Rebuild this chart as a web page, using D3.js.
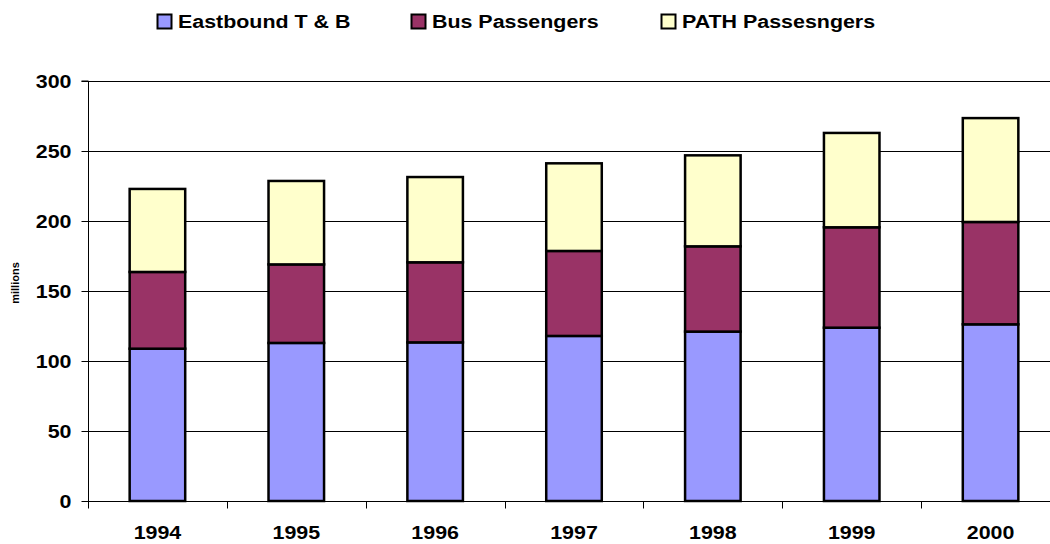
<!DOCTYPE html>
<html>
<head>
<meta charset="utf-8">
<script src="https://cdn.jsdelivr.net/npm/d3@7"></script>
<style>
  html, body { margin: 0; padding: 0; background: #fff; }
  svg { display: block; font-family: Arial, "Liberation Sans", sans-serif; }
</style>
</head>
<body>
<svg id="chart" width="1050" height="544"></svg>
<script>
// Trans-Hudson passengers, millions per year
const years = ["1994", "1995", "1996", "1997", "1998", "1999", "2000"];
const eastbound = [108.8, 112.9, 113.3, 117.9, 121.0, 123.8, 126.2];
const bus = [54.8, 56.1, 57.2, 60.7, 60.9, 71.7, 73.1];
const path = [59.3, 59.6, 60.9, 62.6, 65.0, 67.4, 74.2];
const seriesNames = ["Eastbound T & B", "Bus Passengers", "PATH Passesngers"];
const seriesColors = ["#9999FF", "#993366", "#FFFFCC"];
const yTicks = [0, 50, 100, 150, 200, 250, 300];

const svg = d3.select("#chart");
const plotLeft = 88, plotRight = 1060, plotTop = 81, plotBottom = 501;
const stretch = "scale(1.19,1)";   // wide bold lettering

const x = d3.scaleBand().domain(years).range([plotLeft, plotRight]).padding(0);
const y = d3.scaleLinear().domain([0, 300]).range([plotBottom, plotTop]);

// gridlines
svg.append("g").selectAll("line").data(yTicks).join("line")
  .attr("x1", plotLeft).attr("x2", plotRight)
  .attr("y1", d => Math.round(y(d)) + 0.5).attr("y2", d => Math.round(y(d)) + 0.5)
  .attr("stroke", "#000").attr("stroke-width", 1);

// stacked bars
const rows = years.map((yr, i) => ({ year: yr, a: eastbound[i], b: bus[i], c: path[i] }));
const stack = d3.stack().keys(["a", "b", "c"]);
const layers = stack(rows);
const barW = x.bandwidth() * 0.4;

svg.append("g").selectAll("g").data(layers).join("g")
  .attr("fill", (d, i) => seriesColors[i])
  .selectAll("rect").data(d => d).join("rect")
  .attr("x", d => x(d.data.year) + (x.bandwidth() - barW) / 2)
  .attr("width", barW)
  .attr("y", d => y(d[1]))
  .attr("height", d => y(d[0]) - y(d[1]))
  .attr("stroke", "#000").attr("stroke-width", 2.5);

// y axis
const yAxis = d3.axisLeft(y).tickValues(yTicks).tickSize(7).tickPadding(8);
const gy = svg.append("g").attr("transform", `translate(${plotLeft + 0.5},0)`).call(yAxis);
gy.select(".domain").attr("stroke", "#000").attr("d", `M-7,${y(300)}H0V${y(0)}`);
gy.selectAll(".tick line").attr("stroke", "#000");
gy.selectAll("text")
  .attr("x", 0).attr("dy", "0.36em")
  .attr("transform", `translate(-17,0) ${stretch}`)
  .attr("font-size", 18).attr("font-weight", "bold")
  .attr("font-family", "Arial, 'Liberation Sans', sans-serif")
  .attr("fill", "#000");

// x axis with ticks at category boundaries
const gx = svg.append("g").attr("transform", `translate(0,${plotBottom + 0.5})`);
gx.append("line").attr("x1", plotLeft).attr("x2", plotRight).attr("stroke", "#000");
const bounds = years.map(d => x(d)).concat([plotRight]);
gx.selectAll("line.tk").data(bounds).join("line").attr("class", "tk")
  .attr("x1", d => Math.round(d) + 0.5).attr("x2", d => Math.round(d) + 0.5)
  .attr("y1", 0).attr("y2", 7).attr("stroke", "#000");
const xAxis = d3.axisBottom(x).tickSize(0).tickPadding(0);
const gxl = svg.append("g").attr("transform", `translate(0,${plotBottom})`).call(xAxis);
gxl.select(".domain").remove();
gxl.selectAll("text")
  .attr("y", 0).attr("dy", 0)
  .attr("transform", `translate(0,38) ${stretch}`)
  .attr("font-size", 18).attr("font-weight", "bold")
  .attr("font-family", "Arial, 'Liberation Sans', sans-serif")
  .attr("fill", "#000");

// y axis title
svg.append("text")
  .attr("transform", "translate(19,283) rotate(-90)")
  .attr("text-anchor", "middle")
  .attr("font-size", 11).attr("font-weight", "bold").attr("fill", "#000")
  .text("millions");

// legend
const legendX = [157, 411, 661];
const legend = svg.append("g").selectAll("g").data(seriesNames).join("g")
  .attr("transform", (d, i) => `translate(${legendX[i]},14)`);
legend.append("rect").attr("x", 0.5).attr("y", 0.5).attr("width", 14).attr("height", 14)
  .attr("fill", (d, i) => seriesColors[i]).attr("stroke", "#000").attr("stroke-width", 2);
legend.append("text")
  .attr("transform", `translate(21,14) ${stretch}`)
  .attr("font-size", 18).attr("font-weight", "bold").attr("fill", "#000")
  .text(d => d);
</script>
</body>
</html>
